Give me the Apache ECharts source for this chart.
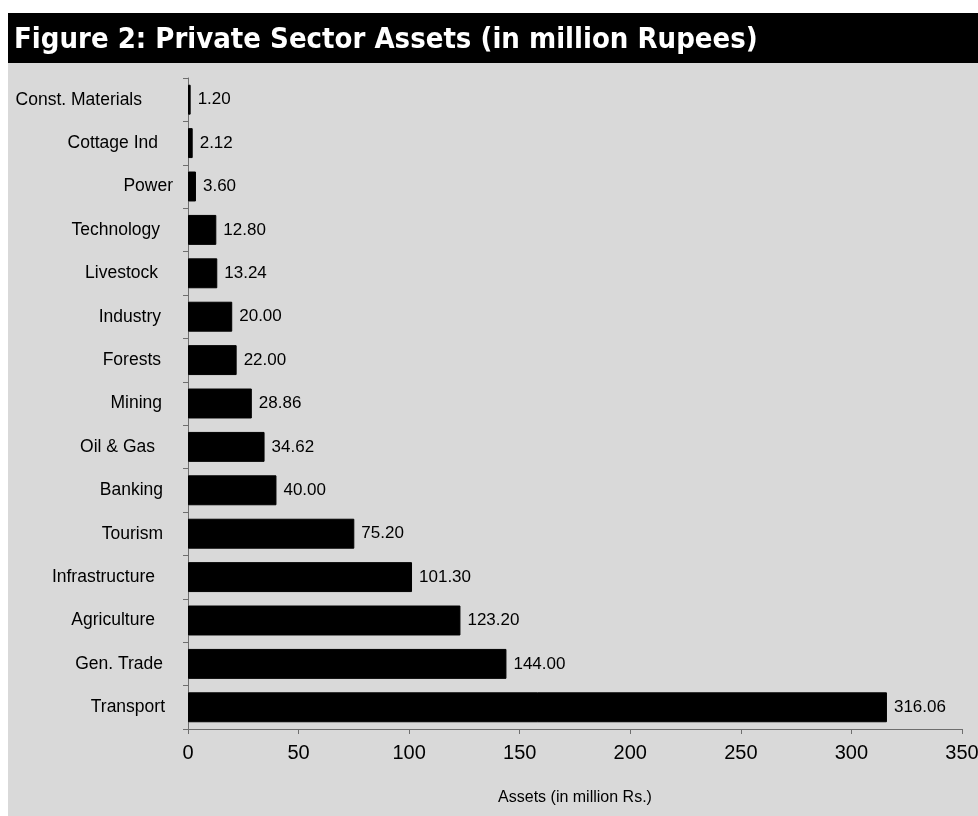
<!DOCTYPE html>
<html>
<head>
<meta charset="utf-8">
<script src="https://cdn.jsdelivr.net/npm/echarts@6/dist/echarts.min.js"></script>
<style>
  html, body { margin: 0; padding: 0; background: #ffffff; }
  #chart { width: 978px; height: 816px; }
</style>
</head>
<body>
<div id="chart"></div>
<script>
// Sectors, listed top to bottom
const sectors = [
  'Const. Materials', 'Cottage Ind', 'Power', 'Technology', 'Livestock',
  'Industry', 'Forests', 'Mining', 'Oil & Gas', 'Banking',
  'Tourism', 'Infrastructure', 'Agriculture', 'Gen. Trade', 'Transport'
];
// Private sector assets, million Rupees
const assets = [
  1.20, 2.12, 3.60, 12.80, 13.24,
  20.00, 22.00, 28.86, 34.62, 40.00,
  75.20, 101.30, 123.20, 144.00, 316.06
];
const titleText = 'Figure 2: Private Sector Assets (in million Rupees)';
const axisTitle = 'Assets (in million Rs.)';

// right-side spacing (px) of each category label from the axis gap
const labelPad = {
  'Const. Materials': 31, 'Cottage Ind': 15, 'Power': 0, 'Technology': 13,
  'Livestock': 15, 'Industry': 12, 'Forests': 12, 'Mining': 11,
  'Oil & Gas': 18, 'Banking': 10, 'Tourism': 10, 'Infrastructure': 18,
  'Agriculture': 18, 'Gen. Trade': 10, 'Transport': 8
};

const sans = '"Liberation Sans", Arial, sans-serif';
const heavy = '"DejaVu Sans Condensed", "DejaVu Sans", sans-serif';

const chart = echarts.init(document.getElementById('chart'));
const rich = {};
sectors.forEach((name, i) => {
  rich['c' + i] = {
    padding: [0, labelPad[name] || 0, 0, 0],
    fontFamily: sans, fontSize: 17.5, color: '#000'
  };
});

chart.setOption({
  animation: false,
  backgroundColor: '#ffffff',
  graphic: [
    { type: 'rect', z: -10, shape: { x: 8, y: 63, width: 970, height: 753 }, style: { fill: '#d9d9d9' } },
    { type: 'rect', z: -10, shape: { x: 8, y: 13, width: 970, height: 50 }, style: { fill: '#000000' } }
  ],
  title: {
    text: titleText,
    left: 9,
    top: 21,
    textStyle: {
      color: '#ffffff',
      fontFamily: heavy,
      fontWeight: 'bold',
      fontSize: 29
    }
  },
  grid: { left: 188, right: 16, top: 78, bottom: 87, outerBoundsMode: 'none', containLabel: false },
  xAxis: {
    type: 'value',
    min: 0,
    max: 350,
    interval: 50,
    name: axisTitle,
    nameLocation: 'middle',
    nameGap: 61,
    nameTextStyle: { fontFamily: sans, fontSize: 16, color: '#000' },
    axisLine: { show: true, lineStyle: { color: '#6e6e6e', width: 1 } },
    axisTick: { show: true, length: 5, lineStyle: { color: '#6e6e6e' } },
    axisLabel: { margin: 14, fontFamily: sans, fontSize: 20, color: '#000' },
    splitLine: { show: false }
  },
  yAxis: {
    type: 'category',
    data: sectors,
    inverse: true,
    axisLine: { show: true, lineStyle: { color: '#6e6e6e', width: 1 } },
    axisTick: { show: true, length: 5, alignWithLabel: false, lineStyle: { color: '#6e6e6e' } },
    axisLabel: {
      margin: 15,
      fontFamily: sans,
      fontSize: 17.5,
      color: '#000',
      formatter: function (v, i) {
        return '{c' + sectors.indexOf(v) + '|' + v + '}';
      },
      rich: rich
    }
  },
  series: [{
    type: 'bar',
    data: assets,
    barCategoryGap: '31%',
    itemStyle: { color: '#000000', borderColor: '#000000', borderWidth: 1 },
    label: {
      show: true,
      position: 'right',
      distance: 7,
      fontFamily: sans,
      fontSize: 17,
      color: '#000',
      formatter: function (p) { return p.value.toFixed(2); }
    }
  }]
});
</script>
</body>
</html>
